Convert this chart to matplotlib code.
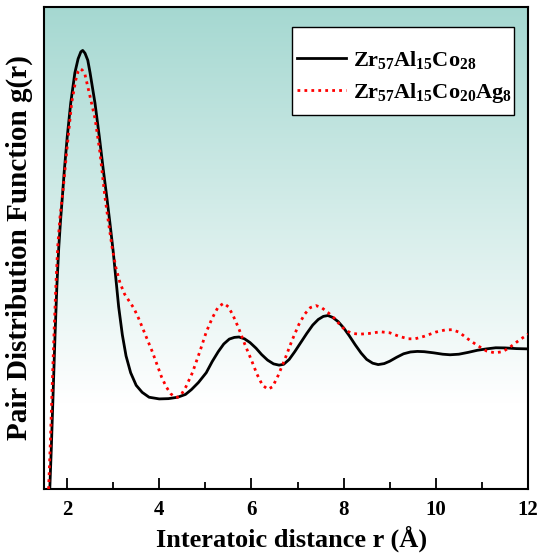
import matplotlib

matplotlib.use("Agg")
import matplotlib.pyplot as plt
import numpy as np
from matplotlib.colors import LinearSegmentedColormap
from matplotlib.patches import Rectangle
from matplotlib.ticker import MultipleLocator

plt.rcParams["font.family"] = "Liberation Serif"
plt.rcParams["font.weight"] = "bold"
plt.rcParams["mathtext.fontset"] = "custom"
plt.rcParams["mathtext.rm"] = "Liberation Serif:bold"
plt.rcParams["mathtext.it"] = "Liberation Serif:bold"
plt.rcParams["mathtext.bf"] = "Liberation Serif:bold"
plt.rcParams["mathtext.default"] = "rm"

# g(r), Zr57Al15Co28
r_base = [1.626, 1.66, 1.70, 1.74, 1.78, 1.82, 1.86, 1.90, 1.94, 2.005, 2.08, 2.17,
          2.24, 2.30, 2.34, 2.39, 2.45, 2.50, 2.606, 2.70, 2.786, 2.86, 2.93, 3.00,
          3.06, 3.12, 3.20, 3.28, 3.38, 3.50, 3.63, 3.78, 4.00, 4.20, 4.40, 4.57,
          4.70, 4.85, 5.02, 5.15, 5.28, 5.40, 5.52, 5.63, 5.73, 5.85, 5.97, 6.10,
          6.22, 6.35, 6.48, 6.60, 6.70, 6.82, 6.94, 7.06, 7.20, 7.33, 7.45, 7.56,
          7.66, 7.76, 7.88, 8.00, 8.12, 8.25, 8.38, 8.50, 8.63, 8.75, 8.88, 9.00,
          9.15, 9.30, 9.45, 9.60, 9.75, 9.95, 10.15, 10.31, 10.50, 10.70, 10.90,
          11.10, 11.30, 11.50, 11.75, 12.00]
g_base = [0.00, 0.30, 0.70, 1.10, 1.45, 1.72, 1.92, 2.09, 2.27, 2.516, 2.755, 2.97,
          3.07, 3.12, 3.13, 3.11, 3.06, 2.97, 2.755, 2.516, 2.28, 2.09, 1.90, 1.70,
          1.50, 1.30, 1.10, 0.95, 0.83, 0.74, 0.69, 0.655, 0.643, 0.645, 0.655, 0.675,
          0.71, 0.76, 0.83, 0.91, 0.98, 1.035, 1.07, 1.082, 1.085, 1.072, 1.045, 1.005,
          0.96, 0.92, 0.893, 0.884, 0.89, 0.925, 0.98, 1.04, 1.11, 1.17, 1.21, 1.232,
          1.238, 1.225, 1.195, 1.15, 1.095, 1.03, 0.97, 0.925, 0.898, 0.888, 0.895, 0.912,
          0.94, 0.965, 0.978, 0.982, 0.98, 0.972, 0.962, 0.958, 0.962, 0.975, 0.99,
          1.00, 1.008, 1.007, 1.002, 1.00]

# g(r), Zr57Al15Co20Ag8
r_ag = [1.60, 1.64, 1.68, 1.72, 1.76, 1.80, 1.85, 1.92, 1.99, 2.10, 2.19, 2.24,
        2.28, 2.33, 2.39, 2.50, 2.61, 2.715, 2.82, 2.90, 2.98, 3.06, 3.15, 3.25,
        3.35, 3.45, 3.55, 3.65, 3.75, 3.85, 3.95, 4.05, 4.15, 4.25, 4.33, 4.40,
        4.48, 4.58, 4.72, 4.88, 5.02, 5.15, 5.28, 5.40, 5.50, 5.60, 5.72, 5.86,
        6.00, 6.12, 6.24, 6.36, 6.46, 6.58, 6.73, 6.88, 7.03, 7.16, 7.28, 7.40,
        7.52, 7.66, 7.81, 7.95, 8.07, 8.20, 8.35, 8.55, 8.80, 9.00, 9.20, 9.40,
        9.55, 9.75, 10.00, 10.20, 10.35, 10.50, 10.70, 10.90, 11.10, 11.28, 11.45,
        11.60, 11.80, 12.00]
g_ag = [0.00, 0.35, 0.75, 1.13, 1.47, 1.74, 1.95, 2.15, 2.40, 2.755, 2.92, 2.98,
        3.00, 2.99, 2.957, 2.80, 2.64, 2.40, 2.09, 1.90, 1.72, 1.58, 1.47, 1.39,
        1.34, 1.29, 1.22, 1.14, 1.06, 0.98, 0.89, 0.80, 0.73, 0.68, 0.657, 0.655,
        0.675, 0.73, 0.83, 0.98, 1.12, 1.22, 1.30, 1.326, 1.30, 1.24, 1.15, 1.03,
        0.92, 0.82, 0.74, 0.712, 0.73, 0.81, 0.93, 1.06, 1.175, 1.25, 1.295, 1.309,
        1.295, 1.26, 1.215, 1.16, 1.127, 1.11, 1.105, 1.11, 1.122, 1.115, 1.09, 1.072,
        1.072, 1.09, 1.12, 1.135, 1.137, 1.12, 1.07, 1.025, 0.985, 0.972, 0.98,
        1.01, 1.06, 1.105]

fig = plt.figure(figsize=(5.39, 5.59), dpi=100)
ax = fig.add_axes([0.0816, 0.1252, 0.898, 0.8623])

# teal-to-white background gradient
cmap = LinearSegmentedColormap.from_list(
    "bg", [(0.0, "#ffffff"), (0.18, "#ffffff"), (1.0, "#a5d8d1")]
)
grad = np.linspace(0, 1, 256).reshape(-1, 1)
ax.imshow(grad, cmap=cmap, aspect="auto", origin="lower",
          extent=[0, 1, 0, 1], transform=ax.transAxes, zorder=0)

ax.plot(r_base, g_base, color="black", lw=2.0, zorder=3,
        solid_joinstyle="round", label=r"Zr$_{57}$Al$_{15}$Co$_{28}$")
ax.plot(r_ag, g_ag, color="red", lw=2.0, ls=(0, (1, 1.5)), zorder=4,
        label=r"Zr$_{57}$Al$_{15}$Co$_{20}$Ag$_{8}$")

ax.set_xlim(1.5, 12)
ax.set_ylim(0, 3.44)
ax.xaxis.set_major_locator(MultipleLocator(2))
ax.xaxis.set_minor_locator(MultipleLocator(1))
ax.tick_params(axis="x", which="major", direction="in", length=8, width=1.3,
               labelsize=15, pad=8)
ax.tick_params(axis="x", which="minor", direction="in", length=5, width=1.3)
ax.set_yticks([])
for s in ax.spines.values():
    s.set_linewidth(1.5)

ax.set_xlabel("Interatoic distance r (Å)", fontsize=19, fontweight="bold", labelpad=4)
ax.xaxis.set_label_coords(0.512, -0.075)
ax.set_ylabel("Pair Distribution Function g(r)", fontsize=21, fontweight="bold", labelpad=8)

# legend box: white frame with more room above/below than at the sides
ax.add_patch(Rectangle((0.512, 0.776), 0.459, 0.1825, transform=ax.transAxes,
                       facecolor="white", edgecolor="black", lw=1.0, zorder=5))
leg = ax.legend(loc="upper right", bbox_to_anchor=(0.966, 0.913), fontsize=16,
                frameon=False, handlelength=2.2, handletextpad=0.3, borderpad=0,
                labelspacing=0.45, borderaxespad=0)
leg.set_zorder(6)

fig.savefig("out.png", dpi=100)
